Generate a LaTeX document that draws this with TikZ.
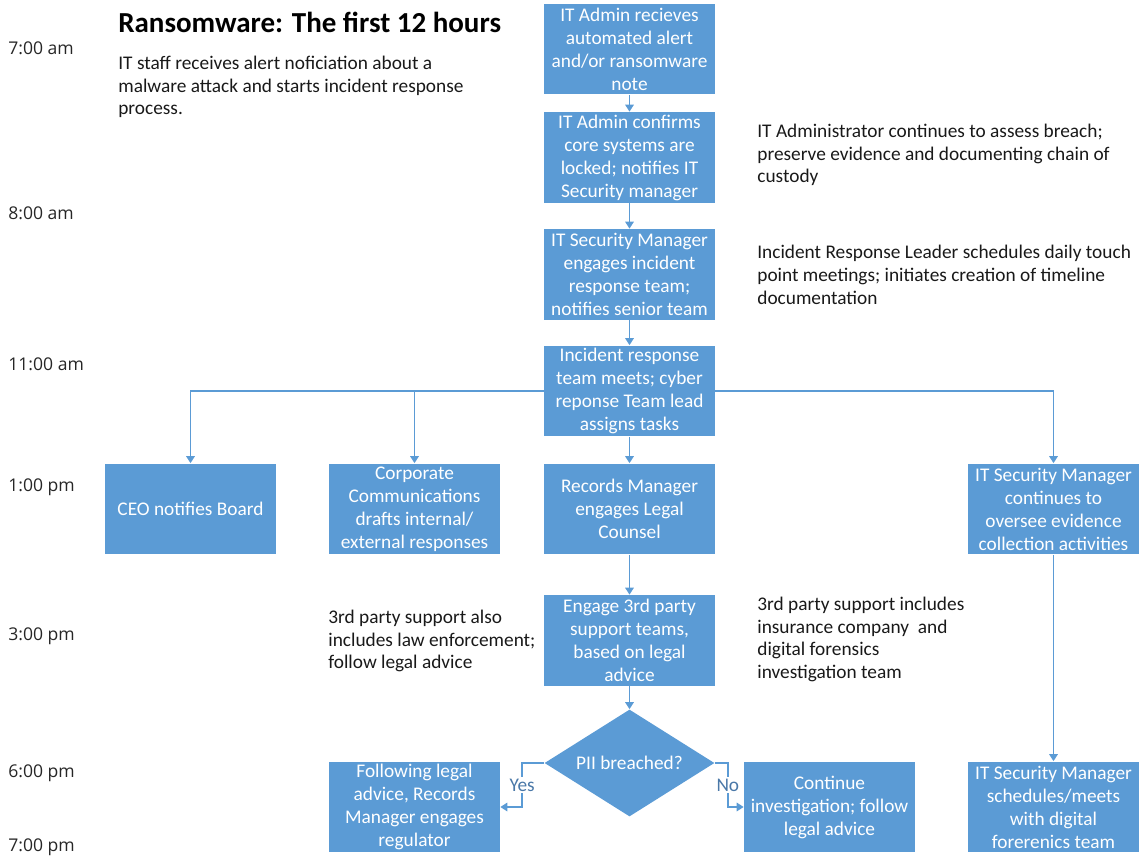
\documentclass[tikz,border=0pt]{standalone}
\usepackage{fontspec}
\setmainfont{Carlito}
\newfontfamily\timefont{Open Sans}
\usetikzlibrary{shapes.geometric,arrows.meta}

\definecolor{boxblue}{HTML}{5B9BD5}
\definecolor{labelblue}{HTML}{4A78A8}

\begin{document}
\begin{tikzpicture}[x=0.02cm,y=-0.02cm,
  box/.style={fill=boxblue, text=white, align=center, minimum width=3.42cm, minimum height=1.82cm, inner sep=0pt, font=\fontsize{11}{13.1}\selectfont},
  decision/.style={diamond, fill=boxblue, text=white, minimum width=3.4cm, minimum height=2.14cm, inner sep=0pt, aspect=1.6, font=\fontsize{11}{13.1}\selectfont},
  note/.style={anchor=west, align=left, inner sep=0pt, text=black!90, font=\fontsize{11}{12.9}\selectfont},
  hour/.style={anchor=west, inner sep=0pt, text=black!85, font=\timefont\fontsize{10}{12}\selectfont},
  link/.style={draw=boxblue, line width=0.9pt, -{Triangle[width=0.17cm,length=0.14cm]}},
  answer/.style={fill=white, inner sep=1pt, text=labelblue, font=\fontsize{11}{13}\selectfont}]
\useasboundingbox (0,0) rectangle (1139,858);

% times
\node[hour] (t7) at (8,48) {7:00 am};
\node[hour] (t8) at (8,213) {8:00 am};
\node[hour] (t11) at (8,364) {11:00 am};
\node[hour] (t13) at (8,487) {1:00 pm};
\node[hour] (t15) at (8,636) {3:00 pm};
\node[hour] (t18) at (8,773) {6:00 pm};
\node[hour] (t19) at (8,847) {7:00 pm};

% title and notes
\node[anchor=west, inner sep=0pt, font=\fontsize{16.5}{20}\selectfont\bfseries] (title) at (118,22) {Ransomware: The first 12 hours};
\node[note] (n1) at (118,87) {IT staff receives alert noficiation about a\\malware attack and starts incident response\\process.};
\node[note] (n2) at (757,155) {IT Administrator continues to assess breach;\\preserve evidence and documenting chain of\\custody};
\node[note] (n3) at (757,275) {Incident Response Leader schedules daily touch\\point meetings; initiates creation of timeline\\documentation};
\node[note] (n4) at (328,641) {3rd party support also\\includes law enforcement;\\follow legal advice};
\node[note] (n5) at (757,639.5) {3rd party support includes\\insurance company\ \ and\\digital forensics\\investigation team};

% main column
\node[box] (alert) at (629.5,49) {IT Admin recieves\\automated alert\\and/or ransomware\\note};
\node[box] (confirm) at (629.5,157.5) {IT Admin confirms\\core systems are\\locked; notifies IT\\Security manager};
\node[box] (engage) at (629.5,274.5) {IT Security Manager\\engages incident\\response team;\\notifies senior team};
\node[box] (meet) at (629.5,391) {Incident response\\team meets; cyber\\reponse Team lead\\assigns tasks};

% 1:00 pm row
\node[box] (ceo) at (190.5,509) {CEO notifies Board};
\node[box] (comms) at (414.5,509) {Corporate\\Communications\\drafts internal/\\external responses};
\node[box] (records) at (629.5,509) {Records Manager\\engages Legal\\Counsel};
\node[box] (oversee) at (1053.5,509) {IT Security Manager\\continues to\\oversee evidence\\collection activities};

\node[box] (third) at (629.5,640.5) {Engage 3rd party\\support teams,\\based on legal\\advice};
\node[decision] (pii) at (629.5,763) {PII breached?};

% 6:00 pm row
\node[box] (regulator) at (414.5,807) {Following legal\\advice, Records\\Manager engages\\regulator};
\node[box] (continue) at (829.5,807) {Continue\\investigation; follow\\legal advice};
\node[box] (forensics) at (1053.5,807) {IT Security Manager\\schedules/meets\\with digital\\forerenics team};

% arrows
\draw[link] (alert) -- (confirm);
\draw[link] (confirm) -- (engage);
\draw[link] (engage) -- (meet);
\draw[link] (meet) -- (records);
\draw[link] (meet.west) -| (ceo.north);
\draw[link] (meet.west) -| (comms.north);
\draw[link] (meet.east) -| (oversee.north);
\draw[link] (records) -- (third);
\draw[link] (third) -- (pii);
\draw[link] (oversee) -- (forensics);
\draw[link] (pii.west) -- ++(-22,0) |- (regulator.east) node[answer, pos=0.25] {Yes};
\draw[link] (pii.east) -- ++(13,0) |- (continue.west) node[answer, pos=0.25] {No};

\end{tikzpicture}
\end{document}
